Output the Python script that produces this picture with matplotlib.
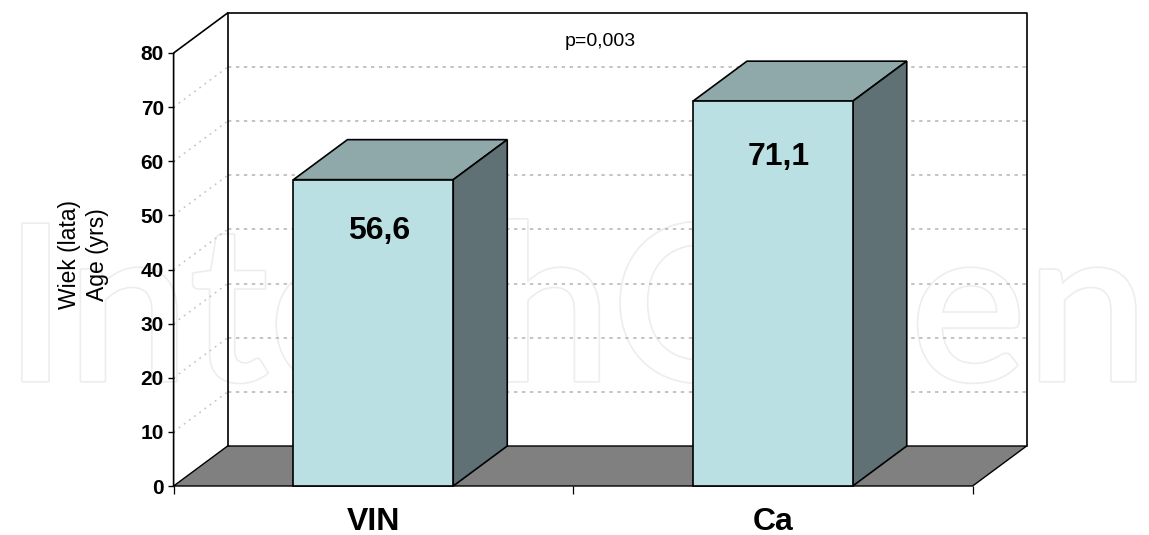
import matplotlib
matplotlib.use('Agg')
import matplotlib.pyplot as plt
import matplotlib.patheffects as pe
from matplotlib.patches import Polygon

plt.rcParams['font.family'] = ['Liberation Sans', 'DejaVu Sans']

categories = ['VIN', 'Ca']
values = [56.6, 71.1]
value_labels = ['56,6', '71,1']
y_ticks = [0, 10, 20, 30, 40, 50, 60, 70, 80]
x_pos = [0.5, 1.5]

W, H = 1149, 535
BAR_W = 0.4
# depth of the fake 3d box, in data units
DX = 54 / 399.5
DY = 40 * 80 / 433

fig = plt.figure(figsize=(W / 100, H / 100), dpi=100)

# watermark sits behind everything
fig.text(4 / W, 1 - 381 / H, 'IntechOpen', fontsize=157, color='white', family='Lato',
         weight='semibold', ha='left', va='baseline', zorder=-5,
         path_effects=[pe.withStroke(linewidth=2.4, foreground='#ededed')])

ax = fig.add_axes([173.6 / W, 1 - 486 / H, 799 / W, 433 / H])
ax.patch.set_alpha(0)
ax.set_xlim(0, 2)
ax.set_ylim(0, 80)
for s in ax.spines.values():
    s.set_visible(False)


def poly(pts, fc='none', ec='black', lw=1.2, z=2):
    ax.add_patch(Polygon(pts, closed=True, fc=fc, ec=ec, lw=lw, zorder=z, clip_on=False,
                         joinstyle='miter'))


# floor and walls
poly([(0, 0), (2, 0), (2 + DX, DY), (DX, DY)], fc='#808080', lw=1.0)
ax.plot([DX, DX, 2 + DX, 2 + DX], [DY, 80 + DY, 80 + DY, DY], color='black', lw=1.2,
        clip_on=False, zorder=2)
ax.plot([0, 0, DX], [0, 80, 80 + DY], color='black', lw=1.2, clip_on=False, zorder=2)

# grid on back and side wall
for t in y_ticks[1:-1]:
    ax.plot([DX, 2 + DX], [t + DY, t + DY], color='#b4b4b4', lw=1.1, ls=(0, (2.2, 3)),
            clip_on=False, zorder=1)
    ax.plot([0, DX], [t, t + DY], color='#c4c4c4', lw=1.1, ls=(0, (1.2, 3)),
            clip_on=False, zorder=1)

# bars
label_drop = [9.55, 10.3]
for x, v, lab, drop in zip(x_pos, values, value_labels, label_drop):
    l, r = x - BAR_W / 2, x + BAR_W / 2
    poly([(l, v), (r, v), (r + DX, v + DY), (l + DX, v + DY)], fc='#8fa8aa', z=3)
    poly([(r, 0), (r + DX, DY), (r + DX, v + DY), (r, v)], fc='#5f7174', z=3)
    poly([(l, 0), (r, 0), (r, v), (l, v)], fc='#bae0e3', z=4)
    ax.text(x + 0.015, v - drop, lab, ha='center', va='center', fontsize=23, weight='bold', zorder=5)

ax.set_xticks([0, 1, 2])
ax.set_xticklabels([])
ax.tick_params(axis='x', length=5.5, width=0.9, color='black')
ax.set_yticks(y_ticks)
ax.set_yticklabels([str(t) for t in y_ticks], fontsize=15, weight='bold')
ax.tick_params(axis='y', length=4, width=1.0, pad=3)

for x, c in zip(x_pos, categories):
    ax.text(x, -36.5 / 433 * 80, c, ha='center', va='center', fontsize=23,
            weight='bold', clip_on=False)

fig.text(600 / W, 1 - 42 / H, 'p=0,003', ha='center', va='center', fontsize=14)
fig.text(83.5 / W, 1 - 255 / H, 'Wiek (lata)\nAge (yrs)', rotation=90, ha='center', va='center',
         fontsize=16.5, linespacing=1.3, multialignment='center')

fig.savefig('out.png', dpi=100)
